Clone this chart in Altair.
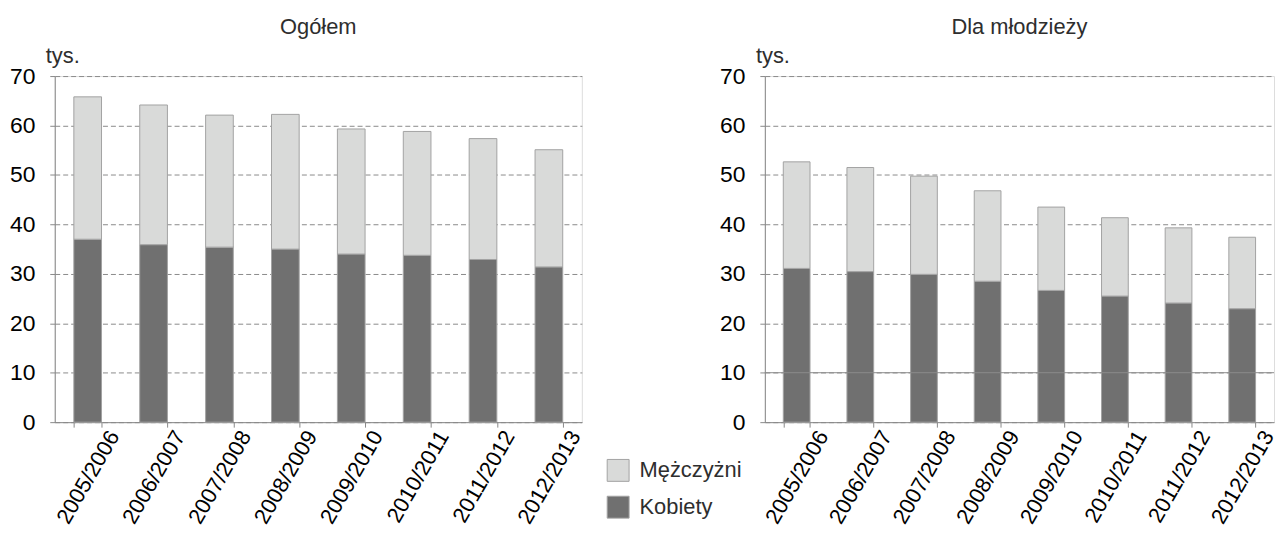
import altair as alt
import pandas as pd

years = ["2005/2006", "2006/2007", "2007/2008", "2008/2009",
         "2009/2010", "2010/2011", "2011/2012", "2012/2013"]
series = ["Mężczyżni", "Kobiety"]

ogolem_total = [65.8, 64.15, 62.1, 62.25, 59.3, 58.8, 57.35, 55.1]
ogolem_kobiety = [37.0, 35.9, 35.4, 35.0, 34.0, 33.75, 32.9, 31.4]
mlodziez_total = [52.65, 51.5, 49.75, 46.8, 43.5, 41.35, 39.3, 37.4]
mlodziez_kobiety = [31.1, 30.45, 29.9, 28.5, 26.65, 25.5, 24.1, 22.95]

y_ticks = [0, 10, 20, 30, 40, 50, 60, 70]
unit_label = ["tys."]
solid_grid_right = [10]

LIGHT = "#d9dad9"
DARK = "#707070"
EDGE = "#a2a2a2"
AXIS = "#9a9a9a"
GRID = "#8a8a8a"
TEXT = "#2e2e2e"
FONT = "Liberation Sans"


def long_df(totals, kobiety):
    rows = []
    for yr, t, k in zip(years, totals, kobiety):
        rows.append({"year": yr, "series": "Kobiety", "value": k, "ord": 0})
        rows.append({"year": yr, "series": "Mężczyżni", "value": round(t - k, 2), "ord": 1})
    return pd.DataFrame(rows)


def panel(df, title, width, extra_rule=False):
    bars = alt.Chart(df).mark_bar(stroke=EDGE, strokeWidth=1).encode(
        x=alt.X("year:N", sort=years, title=None,
                scale=alt.Scale(paddingInner=0.58, paddingOuter=0.29),
                axis=alt.Axis(labelAngle=-60, labelAlign="right", labelBaseline="middle",
                              labelOffset=26, labelPadding=5, tickBand="extent",
                              tickSize=5, grid=False, labelFontSize=22)),
        y=alt.Y("value:Q", stack="zero", title=None,
                scale=alt.Scale(domain=[0, 70], nice=False),
                axis=alt.Axis(values=y_ticks, tickSize=5, labelPadding=15,
                              labelFontSize=23, grid=True, gridColor=GRID,
                              gridDash=[5, 3], gridWidth=1)),
        color=alt.Color("series:N",
                        scale=alt.Scale(domain=series, range=[LIGHT, DARK]),
                        legend=alt.Legend(orient="none", legendX=555, legendY=385,
                                          title=None, symbolType="square",
                                          symbolSize=484, symbolStrokeColor=EDGE,
                                          symbolStrokeWidth=1, labelFontSize=22,
                                          labelColor=TEXT, labelOffset=10,
                                          rowPadding=10, padding=0, labelFont=FONT)),
        order=alt.Order("ord:Q"),
    )
    unit = alt.Chart(pd.DataFrame({"t": unit_label})).mark_text(
        align="left", baseline="alphabetic", fontSize=22, color=TEXT, font=FONT
    ).encode(x=alt.value(-9), y=alt.value(-13), text="t:N")
    layers = [bars, unit]
    if extra_rule:
        rule = alt.Chart(pd.DataFrame({"v": solid_grid_right})).mark_rule(
            color=GRID, strokeWidth=1
        ).encode(y="v:Q")
        layers = [bars, rule, unit]
    return alt.layer(*layers).properties(
        width=width, height=348,
        title=alt.TitleParams(title, fontSize=22, fontWeight="normal", color=TEXT,
                              font=FONT, anchor="middle", offset=6),
    )


left = panel(long_df(ogolem_total, ogolem_kobiety), "Ogółem", 530)
right = panel(long_df(mlodziez_total, mlodziez_kobiety), "Dla młodzieży", 512, extra_rule=True)

chart = alt.hconcat(left, right, spacing=134).properties(
    padding={"left": 0, "top": 6, "right": 0, "bottom": 0}
).configure_view(stroke=None).configure_axis(
    domainColor=AXIS, tickColor=AXIS, labelColor=TEXT, labelFont=FONT
).configure(font=FONT)

chart.save("out.html", embed_options={"renderer": "svg", "actions": False})
